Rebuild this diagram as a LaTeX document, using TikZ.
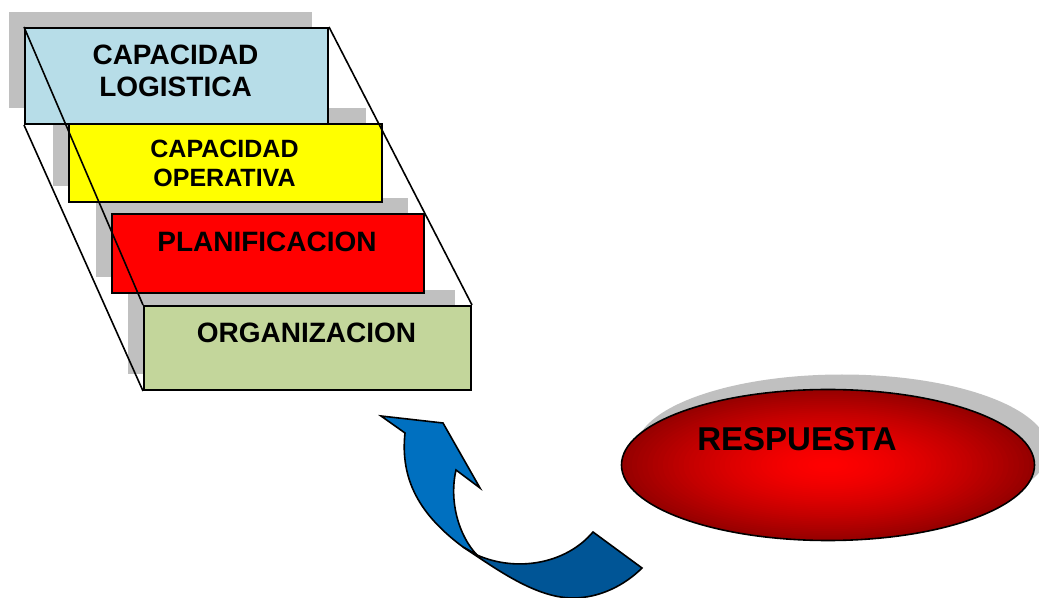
\documentclass[tikz,border=0pt]{standalone}
\usepackage{fontspec}
\setmainfont{Liberation Sans}
\usepackage{tikz}
\usetikzlibrary{shapes.geometric,shadows}
\definecolor{logblue}{RGB}{183,221,232}
\definecolor{opyellow}{RGB}{255,255,0}
\definecolor{planred}{RGB}{255,0,0}
\definecolor{orggreen}{RGB}{195,214,155}
\definecolor{shadowgray}{RGB}{192,192,192}
\definecolor{respdark}{RGB}{150,0,0}
\definecolor{arrowblue}{RGB}{0,112,192}
\definecolor{arrowdark}{RGB}{0,85,150}

\begin{document}
\begin{tikzpicture}[x=0.5pt,y=-0.5pt]

            \tikzset{stackbox/.style={draw=black, line width=1pt, anchor=north west, inner sep=0pt,
                     drop shadow={shadow xshift=-8pt, shadow yshift=8pt, fill=shadowgray, opacity=1}},
                     boxtext/.style={font=\bfseries\fontsize{14}{16}\selectfont, align=center},
                     sideline/.style={line width=0.8pt}}

            \useasboundingbox (0,0) rectangle (1039,598);

            \node[stackbox, fill=orggreen, minimum width=163.5pt, minimum height=42pt] (orgbox) at (143,305) {};
            \node[stackbox, fill=planred, minimum width=156pt, minimum height=39.5pt] (planbox) at (111,213) {};
            \node[stackbox, fill=opyellow, minimum width=156.5pt, minimum height=39pt] (opbox) at (68,123) {};
            \node[stackbox, fill=logblue, minimum width=151.5pt, minimum height=48pt] (logbox) at (24,27) {};

            \node[boxtext] (logtext) at (175.5,71) {CAPACIDAD\\LOGISTICA};
            \node[boxtext, font=\bfseries\fontsize{12.5}{14.5}\selectfont] (optext) at (224.5,163.5) {CAPACIDAD\\OPERATIVA};
            \node[boxtext] (plantext) at (267,242) {PLANIFICACION};
            \node[boxtext] (orgtext) at (306.5,333) {ORGANIZACION};

            \draw[sideline] (logbox.north west) -- (orgbox.north west);
            \draw[sideline] (logbox.south west) -- (orgbox.south west);
            \draw[sideline] (logbox.north east) -- (orgbox.north east);

            \node[ellipse, draw=black, line width=0.8pt, fill=respdark, inner sep=0pt,
                  minimum width=206.5pt, minimum height=75.5pt,
                  drop shadow={shadow xshift=7pt, shadow yshift=7.5pt, fill=shadowgray, opacity=1}] (respuesta) at (828,465) {};
            \foreach \k [evaluate=\k as \r using 1-\k/40, evaluate=\k as \pct using 100*(1-\r^1.5)] in {1,...,39}
                \fill[red!\pct!respdark] (respuesta.center) ellipse [x radius=206.5*\r, y radius=75.5*\r];
            \node[font=\bfseries\fontsize{16.5}{19}\selectfont] (resptext) at (797,439) {RESPUESTA};

            \fill[arrowblue, draw=black, line width=0.8pt] (381,416) -- (443,423) -- (480,488) -- (456,470)
                .. controls (449,500) and (458,535) .. (477,555) -- (463,547)
                .. controls (420,515) and (400,480) .. (405,433) -- cycle;
            \fill[arrowdark, draw=black, line width=0.8pt] (463,547) .. controls (495,568) and (535,598) .. (573,598)
                .. controls (600,598) and (625,585) .. (642,568) -- (593,532)
                .. controls (565,565) and (515,572) .. (477,555) -- cycle;

        \end{tikzpicture}
\end{document}
